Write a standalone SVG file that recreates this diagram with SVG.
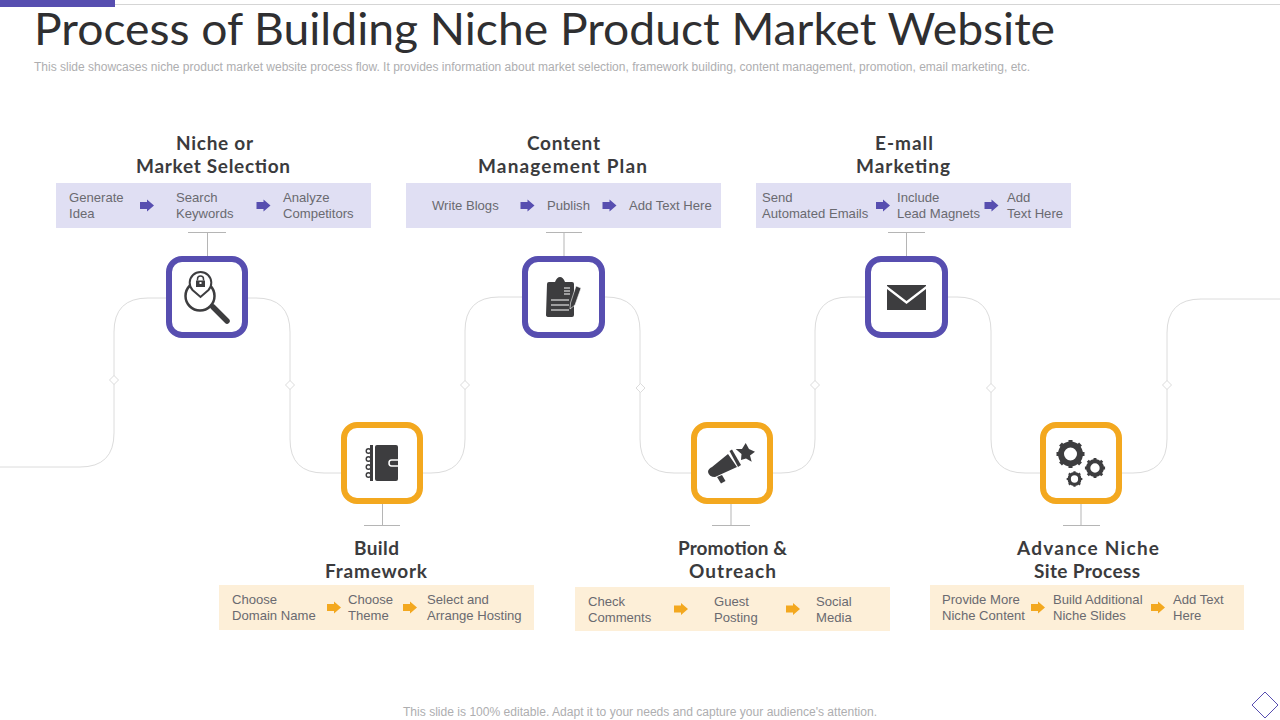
<svg xmlns="http://www.w3.org/2000/svg" width="1280" height="720" viewBox="0 0 1280 720">
<style>
text{font-family:"Liberation Sans",Arial,sans-serif}
.h{font-family:Lato,"Liberation Sans",sans-serif;font-size:19px;font-weight:700;fill:#3b3b3d;text-anchor:middle}
.t{font-size:13.100px;fill:#6a6a70}
.p{fill:#e0dff3}.o{fill:#fdefd8}
.np{fill:#fff;stroke:#574eb0;stroke-width:6}
.no{fill:#fff;stroke:#f3a81f;stroke-width:6}
.c{fill:none;stroke:#dcdcdc;stroke-width:1}
.s{fill:none;stroke:#b5b5b5;stroke-width:1}
.i{fill:#3d3d3f}
</style>
<defs>
<path id="a" d="M-7-3.500H0V-6L7 0 0 6V3.500H-7Z"/>
<path id="d" d="M0-4.500 4.500 0 0 4.500-4.500 0Z" fill="#fff" stroke="#dcdcdc"/>
<g id="gear"><circle r="9.500" fill="none" stroke="#3d3d3f" stroke-width="6"/><path d="M0-14V-11M0 14V11M-14 0H-11M14 0H11M-10-10-8-8M10 10 8 8M-10 10-8 8M10-10 8-8" stroke="#3d3d3f" stroke-width="4"/></g>
</defs>
<rect id="topbar" width="115" height="7" fill="#574eb0"/>
<path d="M115 4.500H1280" stroke="#d5d5d5"/>
<text id="title" x="34" y="45" font-size="43.500" fill="#2f2f31" style="font-family:Lato,'Liberation Sans',sans-serif" textLength="1021" lengthAdjust="spacingAndGlyphs">Process of Building Niche Product Market Website</text>
<text id="subtitle" x="34" y="71" font-size="12" fill="#aeaeb0" textLength="996" lengthAdjust="spacingAndGlyphs">This slide showcases niche product market website process flow. It provides information about market selection, framework building, content management, promotion, email marketing, etc.</text>
<g id="connectors">
<path class="c" d="M0 467H80Q114 467 114 433V332Q114 298 148 298H166"/>
<path class="c" d="M248 298H256Q290 298 290 332V439Q290 473 324 473H341"/>
<path class="c" d="M423 473H431Q465 473 465 439V331Q465 297 499 297H522"/>
<path class="c" d="M605 297H606Q640 297 640 331V439Q640 473 674 473H691"/>
<path class="c" d="M773 473H781Q815 473 815 439V331Q815 297 849 297H865"/>
<path class="c" d="M948 297H957Q991 297 991 331V439Q991 473 1025 473H1040"/>
<path class="c" d="M1122 473H1133Q1167 473 1167 439V333Q1167 299 1201 299H1280"/>
<use href="#d" x="114" y="380"/><use href="#d" x="290" y="385"/><use href="#d" x="465" y="385"/><use href="#d" x="640.500" y="388"/><use href="#d" x="815" y="385"/><use href="#d" x="991" y="388"/><use href="#d" x="1167" y="385"/>
<path class="s" d="M207.500 232V256M188 232.500H226"/>
<path class="s" d="M564 232V256M546 232.500H582"/>
<path class="s" d="M906.500 232V256M888 232.500H925"/>
<path class="s" d="M382.500 504V525.500M364 525.500H400"/>
<path class="s" d="M731 504V525.500M712 525.500H750"/>
<path class="s" d="M1081 504V525.500M1063 525.500H1100"/>
</g>
<g id="node-niche">
<text class="h" x="214.500" y="150" textLength="77">Niche or</text><text class="h" x="213" y="173" textLength="154">Market Selection</text>
<rect class="p" x="56" y="183" width="315" height="45"/>
<text class="t"><tspan x="69" y="202">Generate</tspan><tspan x="69" y="218">Idea</tspan></text>
<use href="#a" x="147" y="205.500" fill="#574eb0"/>
<text class="t"><tspan x="176" y="202">Search</tspan><tspan x="176" y="218">Keywords</tspan></text>
<use href="#a" x="263.500" y="205.500" fill="#574eb0"/>
<text class="t"><tspan x="283" y="202">Analyze</tspan><tspan x="283" y="218">Competitors</tspan></text>
<rect class="np" x="169" y="259" width="76" height="76" rx="13"/>
<circle cx="200" cy="296" r="14.500" fill="none" stroke="#3d3d3f" stroke-width="2.500"/>
<path d="M192.500 290A10.800 10.800 0 1 1 208.500 290L200.500 297Z" fill="#fff" stroke="#3d3d3f" stroke-width="2"/>
<path class="i" d="M196 280.500H205V287H196Z"/>
<path d="M197.500 280.500V279A3 3 0 0 1 203.500 279V280.500" fill="none" stroke="#3d3d3f" stroke-width="1.500"/>
<rect x="199.500" y="282" width="2" height="2" fill="#fff"/>
<path d="M213 307 227 321" stroke="#3d3d3f" stroke-width="5.500" stroke-linecap="round"/>
</g>
<g id="node-framework">
<text class="h" x="376.500" y="555" textLength="45">Build</text><text class="h" x="376" y="578" textLength="102">Framework</text>
<rect class="o" x="219" y="585" width="315" height="45"/>
<text class="t"><tspan x="232" y="604">Choose</tspan><tspan x="232" y="620">Domain Name</tspan></text>
<use href="#a" x="334" y="607.500" fill="#f3a81f"/>
<text class="t"><tspan x="348" y="604">Choose</tspan><tspan x="348" y="620">Theme</tspan></text>
<use href="#a" x="410" y="607.500" fill="#f3a81f"/>
<text class="t"><tspan x="427" y="604">Select and</tspan><tspan x="427" y="620">Arrange  Hosting</tspan></text>
<rect class="no" x="344" y="425" width="76" height="76" rx="13"/>
<rect class="i" x="375" y="445" width="23" height="36" rx="2"/>
<rect class="i" x="370" y="445" width="3" height="36"/>
<path d="M398 460H391.500Q389 460 389 463Q389 466 391.500 466H398" fill="none" stroke="#fff" stroke-width="1.500"/>
<g fill="none" stroke="#3d3d3f" stroke-width="1.400"><circle cx="368.500" cy="451" r="2.300"/><circle cx="368.500" cy="459" r="2.300"/><circle cx="368.500" cy="467" r="2.300"/><circle cx="368.500" cy="475" r="2.300"/></g>
</g>
<g id="node-content">
<text class="h" x="563.500" y="150" textLength="73">Content</text><text class="h" x="562.500" y="173" textLength="169">Management Plan</text>
<rect class="p" x="406" y="183" width="315" height="45"/>
<text class="t" x="432" y="210">Write Blogs</text>
<use href="#a" x="527.500" y="205.500" fill="#574eb0"/>
<text class="t" x="547" y="210">Publish</text>
<use href="#a" x="609.500" y="205.500" fill="#574eb0"/>
<text class="t" x="629" y="210">Add Text  Here</text>
<rect class="np" x="525" y="259" width="77" height="76" rx="13"/>
<path class="i" d="M547 284Q547 282 549 282H555Q557 277 560 277Q563 277 565 282H572Q574 282 574 284V315Q574 317 572 317H549Q546 317 546 315Z"/>
<path d="M564 288H570M564 291H570M564 294H570M551 300H569M551 305H569M551 310H569" stroke="#fff" stroke-width="1.200"/>
<path class="i" d="M576 286 581 288 575 305 570 309 570.500 303Z" stroke="#fff" stroke-width=".6"/>
</g>
<g id="node-promotion">
<text class="h" x="732.500" y="555" textLength="109">Promotion &amp;</text><text class="h" x="732.500" y="578" textLength="87">Outreach</text>
<rect class="o" x="575" y="587" width="315" height="44"/>
<text class="t"><tspan x="588" y="606">Check</tspan><tspan x="588" y="622">Comments</tspan></text>
<use href="#a" x="681" y="609" fill="#f3a81f"/>
<text class="t"><tspan x="714" y="606">Guest</tspan><tspan x="714" y="622">Posting</tspan></text>
<use href="#a" x="793" y="609" fill="#f3a81f"/>
<text class="t"><tspan x="816" y="606">Social</tspan><tspan x="816" y="622">Media</tspan></text>
<rect class="no" x="694" y="425" width="76" height="76" rx="13"/>
<path class="i" d="M712 467 728 454 737 467 715 477Q709 477 708 472Q708 469 712 467Z"/>
<path class="i" d="M729.500 451 732 449.500 741 465 738 467Z"/>
<path class="i" d="M717 477 722 475 725.500 481 721 483.500Z"/>
<path class="i" d="M745.700 443 749 449 755 451.700 750 455.500 751.700 461.700 746 458.500 741 460 741.500 454 735.700 449 742 449Z"/>
</g>
<g id="node-email">
<text class="h" x="904" y="150" textLength="58">E-mall</text><text class="h" x="903" y="173" textLength="94">Marketing</text>
<rect class="p" x="756" y="183" width="315" height="45"/>
<text class="t"><tspan x="762" y="202">Send</tspan><tspan x="762" y="218">Automated Emails</tspan></text>
<use href="#a" x="883" y="205.500" fill="#574eb0"/>
<text class="t"><tspan x="897" y="202">Include</tspan><tspan x="897" y="218">Lead Magnets</tspan></text>
<use href="#a" x="991.500" y="205.500" fill="#574eb0"/>
<text class="t"><tspan x="1007" y="202">Add</tspan><tspan x="1007" y="218">Text Here</tspan></text>
<rect class="np" x="868" y="259" width="77" height="76" rx="13"/>
<path class="i" d="M887 285H926V286L906.500 301 887 286ZM887 289 906.500 304 926 289V310H887Z"/>
</g>
<g id="node-advance">
<text class="h" x="1088" y="555" textLength="142">Advance Niche</text><text class="h" x="1087" y="578" textLength="106">Site Process</text>
<rect class="o" x="930" y="585" width="314" height="45"/>
<text class="t"><tspan x="942" y="604">Provide  More</tspan><tspan x="942" y="620">Niche Content</tspan></text>
<use href="#a" x="1038" y="607.500" fill="#f3a81f"/>
<text class="t"><tspan x="1053" y="604">Build Additional</tspan><tspan x="1053" y="620">Niche Slides</tspan></text>
<use href="#a" x="1158" y="607.500" fill="#f3a81f"/>
<text class="t"><tspan x="1173" y="604">Add Text</tspan><tspan x="1173" y="620">Here</tspan></text>
<rect class="no" x="1043" y="425" width="76" height="76" rx="13"/>
<use href="#gear" x="1070.500" y="454"/>
<use href="#gear" transform="translate(1095 468) scale(.72)"/>
<use href="#gear" transform="translate(1074.500 479) scale(.56)"/>
</g>
<text id="footer" x="640" y="716" font-size="12" fill="#aeaeb0" text-anchor="middle" textLength="474" lengthAdjust="spacingAndGlyphs">This slide is 100% editable. Adapt it to your needs and capture your audience's attention.</text>
<path id="corner" d="M1265 692 1278 705 1265 718 1252 705Z" fill="#fff" stroke="#574eb0"/>
</svg>
